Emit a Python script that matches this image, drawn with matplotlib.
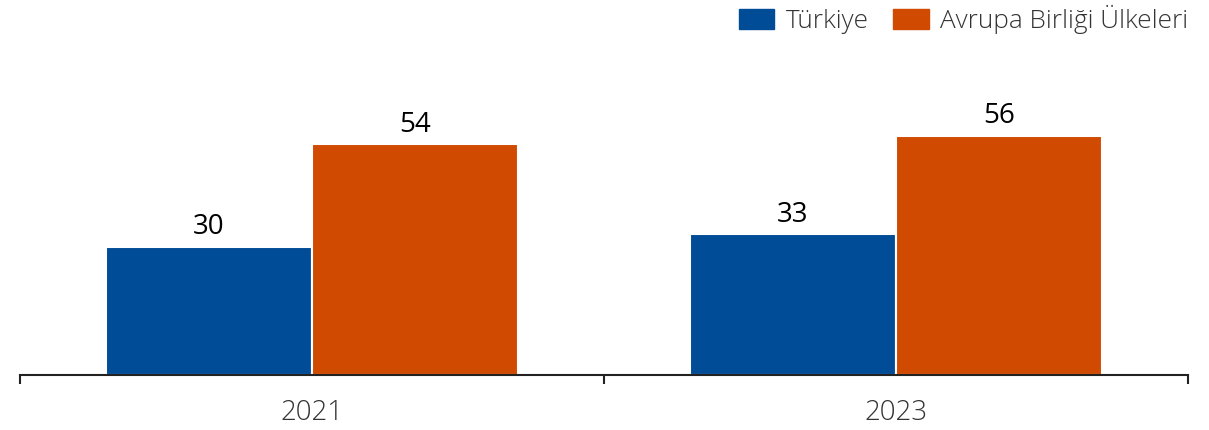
import numpy as np
import matplotlib.pyplot as plt
from matplotlib.patches import Patch

years = ['2021', '2023']
turkiye = [30, 33]
ab = [54, 56]
series_names = ['Türkiye', 'Avrupa Birliği Ülkeleri']
colors = ['#004C97', '#D04A02']

plt.rcParams['font.family'] = ['Open Sans', 'DejaVu Sans']

fig = plt.figure(figsize=(12.09, 4.30), dpi=100)
W, H = 1209, 430
ymax = 76
bottom_px = 375
top_px = bottom_px - ymax * 4.27
ax = fig.add_axes([20 / W, (H - bottom_px) / H, 1168 / W, (bottom_px - top_px) / H])

x = np.arange(len(years))
w = 0.353
b1 = ax.bar(x - w / 2, turkiye, w, color=colors[0], edgecolor='white', linewidth=1.5)
b2 = ax.bar(x + w / 2, ab, w, color=colors[1], edgecolor='white', linewidth=1.5)
ax.bar_label(b1, padding=4, fontsize=20, color='black')
ax.bar_label(b2, padding=4, fontsize=20, color='black')

ax.set_xlim(-0.5, len(years) - 0.5)
ax.set_ylim(0, ymax)
ax.set_xticks(x)
ax.set_xticklabels(years, fontsize=20, color='#333333', fontweight='light')
ax.set_xticks(np.arange(-0.5, len(years)), minor=True)
ax.tick_params(axis='x', which='major', length=0, pad=17)
ax.tick_params(axis='x', which='minor', length=6.5, width=1.5, color='#222222')
ax.set_yticks([])
for s in ['top', 'right', 'left']:
    ax.spines[s].set_visible(False)
ax.spines['bottom'].set_color('#222222')
ax.spines['bottom'].set_linewidth(1.5)

handles = [Patch(color=c) for c in colors]
leg = fig.legend(handles, series_names, loc='upper right', bbox_to_anchor=(1199 / W, 1.012),
                 ncol=2, frameon=False, fontsize=18.8, handlelength=1.35, handleheight=0.8,
                 handletextpad=0.45, columnspacing=0.95, borderaxespad=0.0)
for t in leg.get_texts():
    t.set_color('#333333')
    t.set_fontweight('light')

fig.savefig('out.png', dpi=100)
